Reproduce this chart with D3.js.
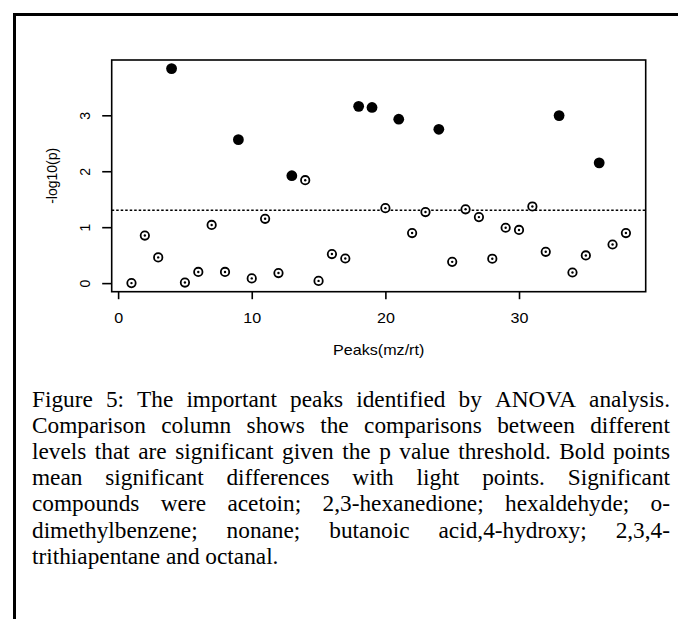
<!DOCTYPE html>
<html>
<head>
<meta charset="utf-8">
<script src="https://cdn.jsdelivr.net/npm/d3@7"></script>
<style>
  html, body { margin: 0; padding: 0; background: #fff; }
  svg { display: block; }
</style>
</head>
<body>
<svg id="chart" width="678" height="619"></svg>
<script>
// ---- data ----
const peaks = [1,2,3,4,5,6,7,8,9,10,11,12,13,14,15,16,17,18,19,20,21,22,23,24,25,26,27,28,29,30,31,32,33,34,35,36,37,38];
const values = [0.00,0.85,0.46,3.835,0.01,0.20,1.04,0.20,2.565,0.084,1.15,0.18,1.92,1.84,0.04,0.52,0.44,3.16,3.14,1.34,2.93,0.895,1.27,2.75,0.38,1.32,1.18,0.436,0.99,0.95,1.37,0.56,2.995,0.19,0.495,2.15,0.69,0.895];
const significantPeaks = [4,9,13,18,19,21,24,33,36];
const threshold = -Math.log10(0.05);
const xTicks = [0,10,20,30];
const yTicks = [0,1,2,3];
const xLabel = "Peaks(mz/rt)";
const yLabel = "-log10(p)";
const captionLines = [
  "Figure 5: The important peaks identified by ANOVA analysis.",
  "Comparison column shows the comparisons between different",
  "levels that are significant given the p value threshold. Bold points",
  "mean significant differences with light points. Significant",
  "compounds were acetoin; 2,3-hexanedione; hexaldehyde; o-",
  "dimethylbenzene; nonane; butanoic acid,4-hydroxy; 2,3,4-",
  "trithiapentane and octanal."
];

const svg = d3.select("#chart");
svg.append("rect").attr("width", 678).attr("height", 619).attr("fill", "#fff");

// outer frame (left and top visible)
svg.append("rect")
  .attr("x", 14.5).attr("y", 14.5).attr("width", 800).attr("height", 800)
  .attr("fill", "none").attr("stroke", "#000").attr("stroke-width", 3);

const L = 111.7, R = 645.7, T = 60, B = 291.7;
const SANS = "'Liberation Sans', Arial, Helvetica, sans-serif";
const SX = 1.15;

const xPad = (d3.max(peaks) - d3.min(peaks)) * 0.04;
const x = d3.scaleLinear().domain([d3.min(peaks) - xPad, d3.max(peaks) + xPad]).range([L, R]);
const yPad = (d3.max(values) - d3.min(values)) * 0.04;
const y = d3.scaleLinear().domain([d3.min(values) - yPad, d3.max(values) + yPad]).range([B, T]);

// x axis
const xAxis = svg.append("g").attr("transform", `translate(0,${B})`)
  .call(d3.axisBottom(x).tickValues(xTicks).tickSize(7.5).tickPadding(0).tickFormat(d3.format("d")));
xAxis.select(".domain").remove();
xAxis.selectAll(".tick line").attr("stroke", "#000").attr("stroke-width", 1.6);
xAxis.selectAll(".tick text")
  .attr("y", 0).attr("dy", null)
  .attr("transform", `translate(0,31.5) scale(${SX},1)`)
  .attr("font-family", SANS).attr("font-size", 14).attr("fill", "#000");

// y axis
const yAxis = svg.append("g").attr("transform", `translate(${L},0)`)
  .call(d3.axisLeft(y).tickValues(yTicks).tickSize(9.5).tickFormat(d3.format("d")));
yAxis.select(".domain").remove();
yAxis.selectAll(".tick line").attr("stroke", "#000").attr("stroke-width", 1.6);
yAxis.selectAll(".tick text")
  .attr("x", 0).attr("dy", null)
  .attr("text-anchor", "middle")
  .attr("transform", `translate(-21.5,0) rotate(-90)`)
  .attr("font-family", SANS).attr("font-size", 14).attr("fill", "#000");

// threshold line
svg.append("line")
  .attr("x1", L).attr("x2", R).attr("y1", y(threshold)).attr("y2", y(threshold))
  .attr("stroke", "#000").attr("stroke-width", 1.5).attr("stroke-dasharray", "2.5,2");

// points
const data = peaks.map((p, i) => ({ p, v: values[i], sig: significantPeaks.includes(p) }));
const open = data.filter(d => !d.sig), filled = data.filter(d => d.sig);
svg.append("g").selectAll("circle.o").data(open).join("circle")
  .attr("cx", d => x(d.p)).attr("cy", d => y(d.v)).attr("r", 4.2)
  .attr("fill", "#fff").attr("stroke", "#000").attr("stroke-width", 1.8);
svg.append("g").selectAll("circle.c").data(open).join("circle")
  .attr("cx", d => x(d.p)).attr("cy", d => y(d.v)).attr("r", 1.2).attr("fill", "#000");
svg.append("g").selectAll("circle.f").data(filled).join("circle")
  .attr("cx", d => x(d.p)).attr("cy", d => y(d.v)).attr("r", 5.4).attr("fill", "#000");

// plot box
svg.append("rect").attr("x", L).attr("y", T).attr("width", R - L).attr("height", B - T)
  .attr("fill", "none").attr("stroke", "#000").attr("stroke-width", 1.6);

// axis titles
svg.append("text").attr("transform", `translate(${(L + R) / 2},355) scale(${SX},1)`)
  .attr("text-anchor", "middle").attr("font-family", SANS).attr("font-size", 14).text(xLabel);
svg.append("text").attr("transform", `translate(57,${(T + B) / 2}) rotate(-90)`)
  .attr("text-anchor", "middle").attr("font-family", SANS).attr("font-size", 14).text(yLabel);

// caption, justified
const SERIF = "'Liberation Serif', 'Times New Roman', Times, serif";
const CFS = 23.3, left = 32, right = 670, base0 = 407, lh = 26.1;
const cap = svg.append("g");
captionLines.forEach((line, i) => {
  const words = line.split(" ");
  const g = cap.append("g");
  const texts = words.map(w => g.append("text").attr("font-family", SERIF).attr("font-size", CFS).attr("fill", "#000").text(w));
  const widths = texts.map(t => t.node().getComputedTextLength());
  const total = d3.sum(widths);
  const last = i === captionLines.length - 1;
  const gap = last ? CFS * 0.25 : (right - left - total) / (words.length - 1);
  let cx = left;
  texts.forEach((t, k) => {
    t.attr("x", cx).attr("y", base0 + i * lh);
    cx += widths[k] + gap;
  });
});
</script>
</body>
</html>
